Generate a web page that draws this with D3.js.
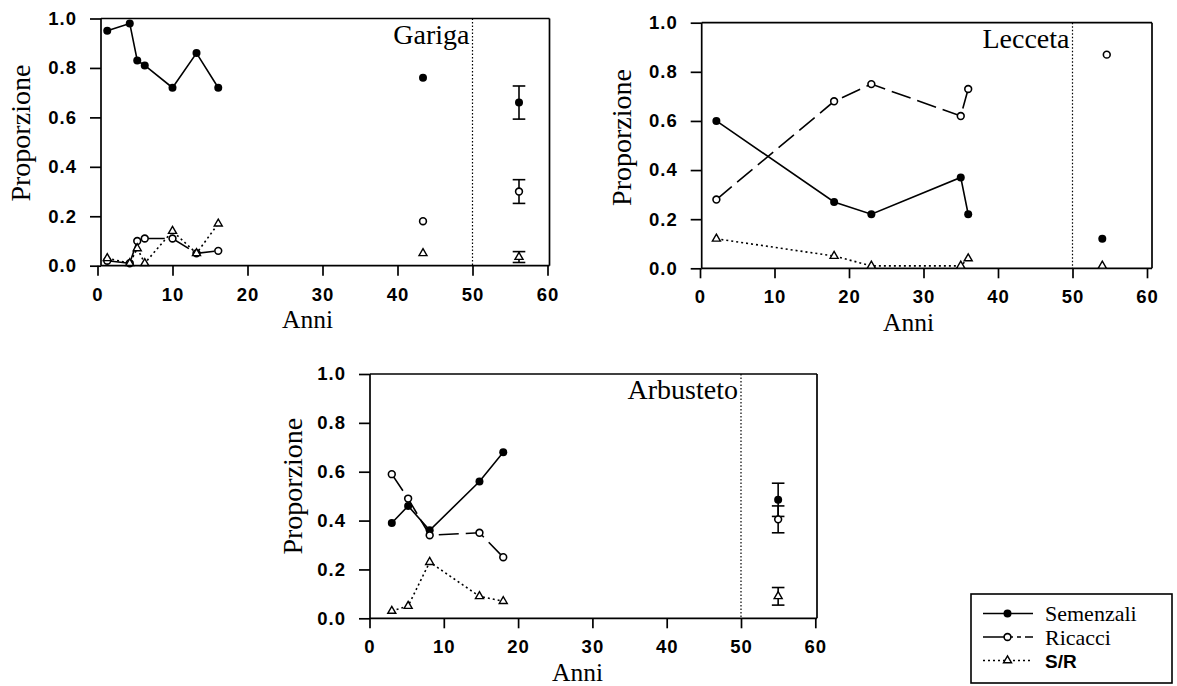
<!DOCTYPE html>
<html>
<head>
<meta charset="utf-8">
<script src="https://cdn.jsdelivr.net/npm/d3@7/dist/d3.min.js"></script>
<style>
  html, body { margin: 0; padding: 0; background: #fff; }
  svg { display: block; }
</style>
</head>
<body>
<svg id="chart" width="1177" height="686"></svg>
<script>
// ---------- data ----------
const xTickValues = [0, 10, 20, 30, 40, 50, 60];
const yTickValues = [0, 0.2, 0.4, 0.6, 0.8, 1.0];
const seriesNames = ["Semenzali", "Ricacci", "S/R"];
const panelTitles = ["Gariga", "Lecceta", "Arbusteto"];
const xTitle = "Anni";
const yTitle = "Proporzione";

// Gariga
const garigaYears = [1.3, 4.3, 5.3, 6.3, 10, 13.2, 16.1];
const garigaSemenzali = [0.95, 0.98, 0.83, 0.81, 0.72, 0.86, 0.72];
const garigaRicacci = [0.02, 0.01, 0.10, 0.11, 0.11, 0.05, 0.06];
const garigaSR = [0.03, 0.01, 0.07, 0.01, 0.14, 0.05, 0.17];
const garigaExtraYears = [43.4, 43.4, 43.4];
const garigaExtra = [0.76, 0.18, 0.05];
const garigaMeanYear = [56.2, 56.2, 56.2];
const garigaMean = [0.66, 0.30, 0.035];
const garigaErr = [0.067, 0.048, 0.022];

// Lecceta
const leccetaYears = [2.2, 18, 23, 35, 36];
const leccetaSemenzali = [0.60, 0.27, 0.22, 0.37, 0.22];
const leccetaRicacci = [0.28, 0.68, 0.75, 0.62, 0.73];
const leccetaSR = [0.12, 0.05, 0.01, 0.01, 0.04];
const leccetaExtraYears = [54, 54.6, 54];
const leccetaExtra = [0.12, 0.87, 0.01];

// Arbusteto
const arbustetoYears = [3, 5.2, 8.1, 14.8, 18];
const arbustetoSemenzali = [0.39, 0.46, 0.36, 0.56, 0.68];
const arbustetoRicacci = [0.59, 0.49, 0.34, 0.35, 0.25];
const arbustetoSR = [0.03, 0.05, 0.23, 0.09, 0.07];
const arbustetoMeanYear = [55, 55, 55];
const arbustetoMean = [0.485, 0.405, 0.09];
const arbustetoErr = [0.068, 0.055, 0.036];

// ---------- layout ----------
const layouts = [
  { x0: 97.5, x60: 547.5, yb: 265.7, yt: 18.5, axisX: 101, frameR: 549.5, labelX: 30, labelDy: -9 },
  { x0: 700, x60: 1147, yb: 268.3, yt: 22.7, axisX: 701.7, frameR: 1152, labelX: 631, labelDy: -8 },
  { x0: 369.5, x60: 815.3, yb: 618.3, yt: 374, axisX: 370, frameR: 817, labelX: 301.5, labelDy: -10 }
];

const panels = [
  { title: panelTitles[0], years: garigaYears, series: [garigaSemenzali, garigaRicacci, garigaSR],
    extraYears: garigaExtraYears, extra: garigaExtra, meanYears: garigaMeanYear, mean: garigaMean, err: garigaErr },
  { title: panelTitles[1], years: leccetaYears, series: [leccetaSemenzali, leccetaRicacci, leccetaSR],
    extraYears: leccetaExtraYears, extra: leccetaExtra, meanYears: null, mean: null, err: null },
  { title: panelTitles[2], years: arbustetoYears, series: [arbustetoSemenzali, arbustetoRicacci, arbustetoSR],
    extraYears: null, extra: null, meanYears: arbustetoMeanYear, mean: arbustetoMean, err: arbustetoErr }
];

const serifFont = "'Liberation Serif', 'Times New Roman', serif";
const sansFont = "'Liberation Sans', Arial, sans-serif";
const dashes = [null, "20,7", "2,3"];
const svg = d3.select("#chart");

function drawMarker(g, kind, cx, cy) {
  if (kind === 0) {
    g.append("circle").attr("cx", cx).attr("cy", cy).attr("r", 4).attr("fill", "#000");
  } else if (kind === 1) {
    g.append("circle").attr("cx", cx).attr("cy", cy).attr("r", 3.4)
      .attr("fill", "#fff").attr("stroke", "#000").attr("stroke-width", 1.6);
  } else {
    g.append("path").attr("d", d3.symbol(d3.symbolTriangle, 28)())
      .attr("transform", `translate(${cx},${cy})`)
      .attr("fill", "#fff").attr("stroke", "#000").attr("stroke-width", 1.4);
  }
}

panels.forEach((p, i) => {
  const L = layouts[i];
  const x = d3.scaleLinear().domain([0, 60]).range([L.x0, L.x60]);
  const y = d3.scaleLinear().domain([0, 1]).range([L.yb, L.yt]);
  const g = svg.append("g");

  // x axis
  const xa = g.append("g").attr("transform", `translate(0,${L.yb})`)
    .call(d3.axisBottom(x).tickValues(xTickValues).tickSize(10).tickPadding(12).tickFormat(d3.format("d")));
  xa.select(".domain").remove();
  xa.selectAll("line").attr("stroke", "#000").attr("stroke-width", 1.7);
  xa.selectAll("text").attr("font-family", sansFont).attr("font-size", 18.5).attr("font-weight", "bold")
    .attr("fill", "#000").style("letter-spacing", "1px");

  // y axis
  const ya = g.append("g").attr("transform", `translate(${L.axisX},0)`)
    .call(d3.axisLeft(y).tickValues(yTickValues).tickSize(11).tickPadding(13).tickFormat(d3.format(".1f")));
  ya.select(".domain").remove();
  ya.selectAll("line").attr("stroke", "#000").attr("stroke-width", 1.7);
  ya.selectAll("text").attr("font-family", sansFont).attr("font-size", 18.5).attr("font-weight", "bold")
    .attr("fill", "#000").style("letter-spacing", "1px");

  // frame
  const frame = g.append("g").attr("stroke", "#000").attr("stroke-width", 1.7).attr("fill", "none");
  frame.append("line").attr("x1", L.axisX).attr("x2", L.axisX).attr("y1", y(1)).attr("y2", y(0));
  frame.append("line").attr("x1", L.axisX).attr("x2", L.frameR).attr("y1", y(0)).attr("y2", y(0));
  frame.append("line").attr("x1", L.axisX).attr("x2", L.frameR).attr("y1", y(1)).attr("y2", y(1));
  frame.append("line").attr("x1", L.frameR).attr("x2", L.frameR).attr("y1", y(1)).attr("y2", y(0));

  // dotted divider at 50
  g.append("line").attr("x1", x(50)).attr("x2", x(50)).attr("y1", y(1)).attr("y2", y(0))
    .attr("stroke", "#000").attr("stroke-width", 1.2).attr("stroke-dasharray", "1.5,2");

  // titles
  g.append("text").attr("x", x(50) - 3).attr("y", y(1) + 25).attr("text-anchor", "end")
    .attr("font-family", serifFont).attr("font-size", 28).text(p.title);
  g.append("text").attr("x", x(28)).attr("y", y(0) + 62.2).attr("text-anchor", "middle")
    .attr("font-family", serifFont).attr("font-size", 25.5).text(xTitle);
  g.append("text")
    .attr("transform", `translate(${L.labelX},${(y(0) + y(1)) / 2 + L.labelDy}) rotate(-90)`)
    .attr("text-anchor", "middle").attr("font-family", serifFont).attr("font-size", 28).text(yTitle);

  // lines
  const line = d3.line().x(d => x(d[0])).y(d => y(d[1]));
  p.series.forEach((vals, k) => {
    const pts = p.years.map((yr, j) => [yr, vals[j]]);
    const path = g.append("path").datum(pts).attr("d", line).attr("fill", "none")
      .attr("stroke", "#000").attr("stroke-width", 1.6);
    if (dashes[k]) path.attr("stroke-dasharray", dashes[k]);
  });

  // error bars
  if (p.mean) {
    p.mean.forEach((m, k) => {
      const cx = x(p.meanYears[k]);
      const e = p.err[k];
      const eb = g.append("g").attr("stroke", "#000").attr("stroke-width", 1.6);
      eb.append("line").attr("x1", cx).attr("x2", cx).attr("y1", y(m - e)).attr("y2", y(m + e));
      eb.append("line").attr("x1", cx - 6.3).attr("x2", cx + 6.3).attr("y1", y(m - e)).attr("y2", y(m - e));
      eb.append("line").attr("x1", cx - 6.3).attr("x2", cx + 6.3).attr("y1", y(m + e)).attr("y2", y(m + e));
    });
  }

  // markers
  p.series.forEach((vals, k) => {
    p.years.forEach((yr, j) => drawMarker(g, k, x(yr), y(vals[j])));
  });
  if (p.extra) p.extra.forEach((v, k) => drawMarker(g, k, x(p.extraYears[k]), y(v)));
  if (p.mean) p.mean.forEach((v, k) => drawMarker(g, k, x(p.meanYears[k]), y(v)));
});

// ---------- legend ----------
const lg = svg.append("g");
lg.append("rect").attr("x", 971).attr("y", 594).attr("width", 201).attr("height", 89)
  .attr("fill", "#fff").attr("stroke", "#000").attr("stroke-width", 1.6);
const rowY = [613.5, 637, 660.5];
seriesNames.forEach((name, k) => {
  const ly = rowY[k];
  const l = lg.append("line").attr("x1", 983).attr("x2", 1033).attr("y1", ly).attr("y2", ly)
    .attr("stroke", "#000").attr("stroke-width", 1.5);
  if (k === 1) l.attr("stroke-dasharray", "22,4,4,4,4,4");
  if (k === 2) l.attr("stroke-dasharray", dashes[k]);
  drawMarker(lg, k, 1007.5, ly);
  const t = lg.append("text").attr("x", 1045).attr("y", ly + 7.5).attr("fill", "#000").text(name);
  if (k < 2) t.attr("font-family", serifFont).attr("font-size", 22);
  else t.attr("font-family", sansFont).attr("font-size", 19).attr("font-weight", "bold");
});
</script>
</body>
</html>
